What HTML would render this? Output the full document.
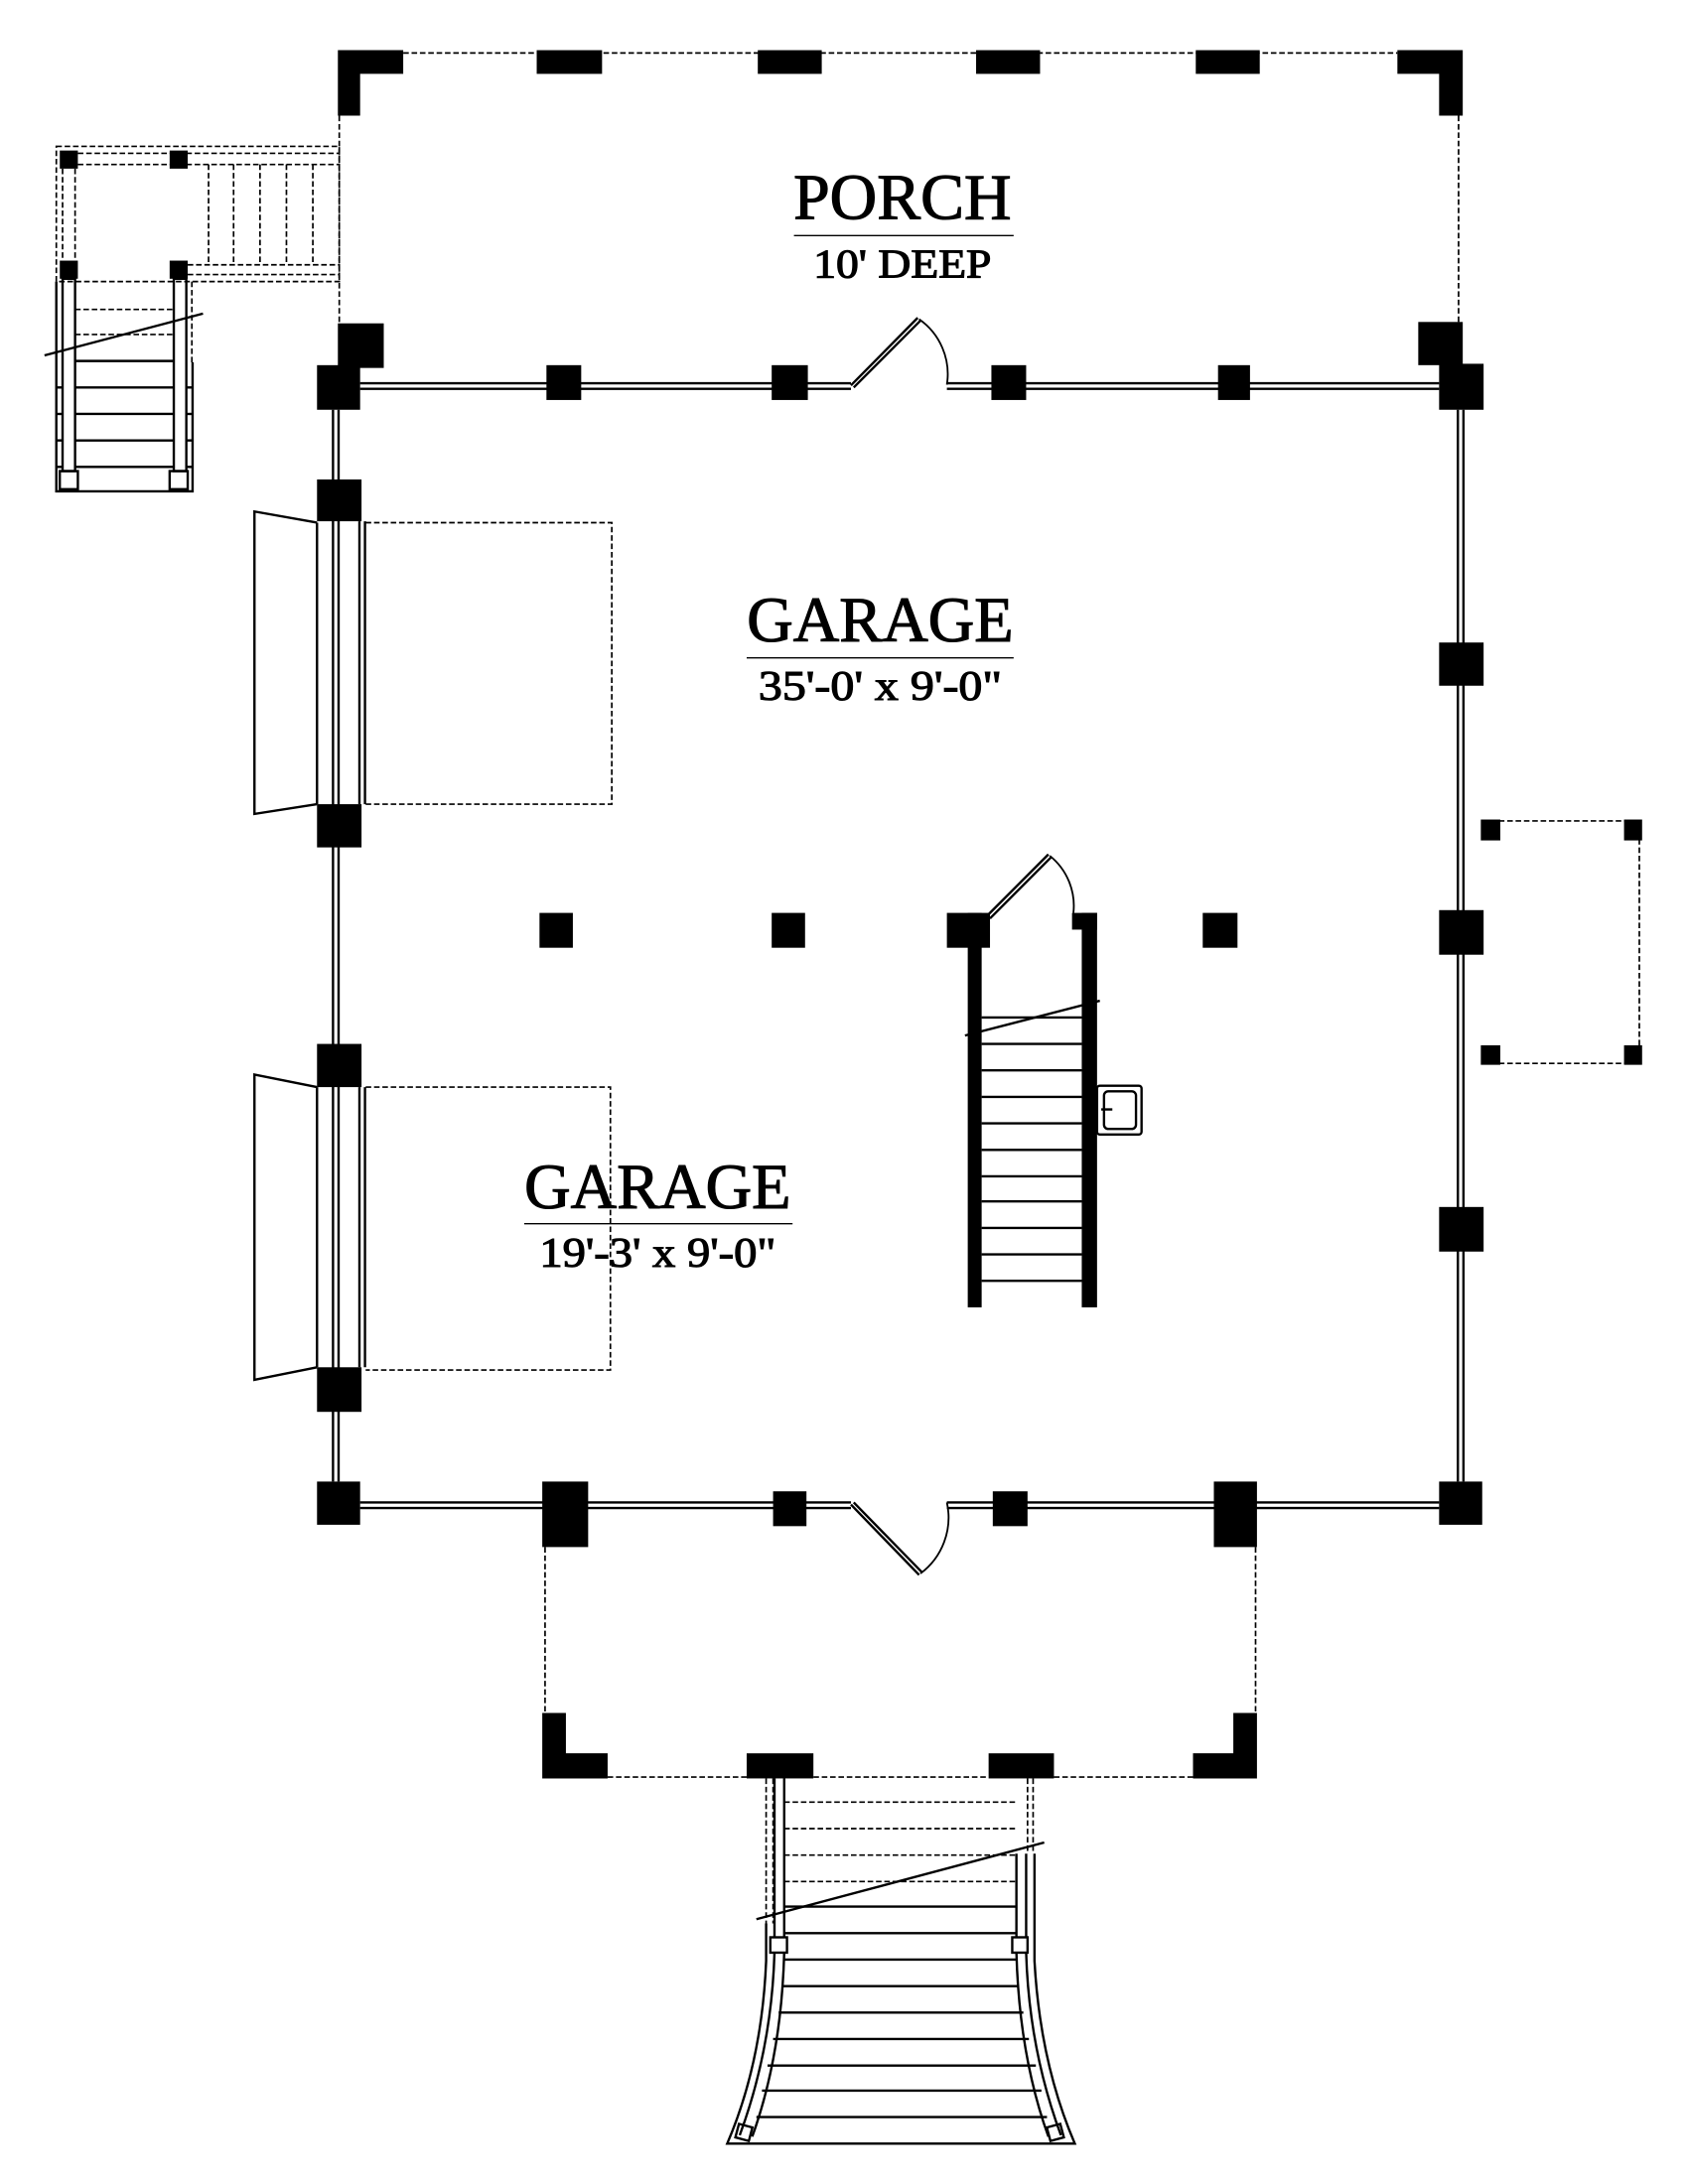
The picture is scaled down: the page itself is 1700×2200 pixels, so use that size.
<!DOCTYPE html>
<html><head><meta charset="utf-8"><style>html,body{margin:0;padding:0;background:#fff}svg{display:block}</style></head>
<body>
<svg width="1700" height="2200" viewBox="0 0 1214 1567" preserveAspectRatio="none" xmlns="http://www.w3.org/2000/svg">
<rect x="0" y="0" width="1214" height="1567" fill="#fff"/>
<g fill="none" stroke="#000" stroke-width="1.2" stroke-dasharray="4 2">
<line x1="290" y1="38" x2="1005" y2="38"/>
<line x1="244" y1="83" x2="244" y2="232"/>
<line x1="1049" y1="83" x2="1049" y2="232"/>
<rect x="40.5" y="105" width="203.5" height="97"/>
<line x1="56" y1="110" x2="244" y2="110"/><line x1="56" y1="118" x2="244" y2="118"/>
<line x1="135" y1="190" x2="244" y2="190"/><line x1="135" y1="197" x2="244" y2="197"/>
<line x1="150" y1="118" x2="150" y2="190"/><line x1="168" y1="118" x2="168" y2="190"/><line x1="187" y1="118" x2="187" y2="190"/><line x1="206" y1="118" x2="206" y2="190"/><line x1="225" y1="118" x2="225" y2="190"/>
<line x1="45" y1="121" x2="45" y2="187"/><line x1="54" y1="121" x2="54" y2="187"/>
<line x1="54" y1="222" x2="125" y2="222"/><line x1="54" y1="240" x2="125" y2="240"/>
<line x1="138" y1="202" x2="138" y2="260"/>
<polyline points="1072,589 1179,589 1179,763 1072,763"/>
<line x1="392" y1="1110" x2="392" y2="1229"/>
<line x1="903" y1="1110" x2="903" y2="1229"/>
<line x1="437" y1="1275" x2="537" y2="1275"/><line x1="585" y1="1275" x2="711" y2="1275"/><line x1="758" y1="1275" x2="858" y2="1275"/>
<polyline points="263,375 440,375 440,577 263,577"/>
<polyline points="263,780 439,780 439,983 263,983"/>
<line x1="564" y1="1293" x2="731" y2="1293"/><line x1="564" y1="1312" x2="731" y2="1312"/><line x1="564" y1="1331" x2="731" y2="1331"/><line x1="564" y1="1350" x2="731" y2="1350"/>
<line x1="551" y1="1276" x2="551" y2="1380"/><line x1="743" y1="1276" x2="743" y2="1330"/>
<line x1="556" y1="1276" x2="556" y2="1380"/><line x1="739" y1="1276" x2="739" y2="1330"/>
</g>
<g fill="#000">
<path d="M243 36H290V53H259V83H243Z"/>
<path d="M1005 36H1052V83H1035V53H1005Z"/>
<rect x="386" y="36" width="47" height="17"/><rect x="545" y="36" width="46" height="17"/><rect x="702" y="36" width="46" height="17"/><rect x="860" y="36" width="46" height="17"/>
<rect x="243" y="232" width="33" height="32"/><rect x="1020" y="231" width="32" height="31"/>
<rect x="228" y="262" width="31" height="32"/><rect x="1035" y="261" width="32" height="33"/>
<rect x="228" y="1063" width="31" height="31"/><rect x="1035" y="1063" width="31" height="31"/>
<rect x="393" y="262" width="25" height="25"/><rect x="555" y="262" width="26" height="25"/><rect x="713" y="262" width="25" height="25"/><rect x="876" y="262" width="23" height="25"/>
<rect x="228" y="344" width="32" height="30"/><rect x="228" y="577" width="32" height="31"/><rect x="228" y="749" width="32" height="31"/><rect x="228" y="981" width="32" height="32"/>
<rect x="1035" y="461" width="32" height="31"/><rect x="1035" y="653" width="32" height="32"/><rect x="1035" y="866" width="32" height="32"/>
<rect x="388" y="655" width="24" height="25"/><rect x="555" y="655" width="24" height="25"/><rect x="865" y="655" width="25" height="25"/>
<rect x="681" y="655" width="31" height="25"/><rect x="696" y="655" width="10" height="283"/>
<rect x="771" y="655" width="18" height="12"/><rect x="778" y="655" width="11" height="283"/>
<rect x="1065" y="588" width="14" height="15"/><rect x="1168" y="588" width="13" height="15"/><rect x="1065" y="750" width="14" height="14"/><rect x="1168" y="750" width="13" height="14"/>
<rect x="43" y="108" width="13" height="13"/><rect x="122" y="108" width="13" height="13"/><rect x="43" y="187" width="13" height="13"/><rect x="122" y="187" width="13" height="13"/>
<rect x="390" y="1063" width="33" height="47"/><rect x="873" y="1063" width="31" height="47"/>
<rect x="556" y="1070" width="24" height="25"/><rect x="714" y="1070" width="25" height="25"/>
<path d="M390 1229H407V1258H437V1276H390Z"/>
<path d="M887 1229H904V1276H858V1258H887Z"/>
<rect x="537" y="1258" width="48" height="18"/><rect x="711" y="1258" width="47" height="18"/>
</g>
<g fill="none" stroke="#000" stroke-width="1.7">
<line x1="259" y1="275" x2="612" y2="275"/><line x1="259" y1="279" x2="612" y2="279"/>
<line x1="681" y1="275" x2="1035" y2="275"/><line x1="681" y1="279" x2="1035" y2="279"/>
<line x1="239.5" y1="294" x2="239.5" y2="1063"/><line x1="243.5" y1="294" x2="243.5" y2="1063"/>
<line x1="1048.5" y1="294" x2="1048.5" y2="1063"/><line x1="1052.5" y1="294" x2="1052.5" y2="1063"/>
<line x1="259" y1="1078" x2="612" y2="1078"/><line x1="259" y1="1082" x2="612" y2="1082"/>
<line x1="681" y1="1078" x2="1035" y2="1078"/><line x1="681" y1="1082" x2="1035" y2="1082"/>
<path d="M612 276.5L660 228"/><path d="M614 278L662 230"/>
<path d="M661 229A48 48 0 0 1 681 276" stroke-width="1.3"/>
<path d="M612 1079.5L661 1130"/><path d="M614 1078L663 1128"/>
<path d="M662 1129A50 50 0 0 0 681 1078" stroke-width="1.3"/>
<path d="M710 657L754 613"/><path d="M712 659L756 615"/>
<path d="M755 614A46 46 0 0 1 772 655" stroke-width="1.3"/>
<line x1="706" y1="730" x2="778" y2="730"/><line x1="706" y1="749" x2="778" y2="749"/><line x1="706" y1="768" x2="778" y2="768"/><line x1="706" y1="787" x2="778" y2="787"/><line x1="706" y1="806" x2="778" y2="806"/><line x1="706" y1="825" x2="778" y2="825"/><line x1="706" y1="844" x2="778" y2="844"/><line x1="706" y1="862" x2="778" y2="862"/><line x1="706" y1="881" x2="778" y2="881"/><line x1="706" y1="900" x2="778" y2="900"/><line x1="706" y1="919" x2="778" y2="919"/>
<line x1="694" y1="743" x2="791" y2="718"/>
<rect x="789" y="779" width="32" height="35" rx="2"/><rect x="794" y="783" width="23" height="27" rx="3"/>
<line x1="792" y1="796" x2="800" y2="796"/>
<path d="M228 375L183 367V584L228 577"/>
<line x1="228" y1="375" x2="228" y2="577"/>
<line x1="258.5" y1="374" x2="258.5" y2="577"/><line x1="262.5" y1="374" x2="262.5" y2="577"/>
<path d="M228 780L183 771V990L228 981"/>
<line x1="228" y1="780" x2="228" y2="981"/>
<line x1="258.5" y1="780" x2="258.5" y2="981"/><line x1="262.5" y1="780" x2="262.5" y2="981"/>
<polyline points="40.5,202 40.5,352.5 138.5,352.5 138.5,260"/>
<rect x="45" y="200" width="9" height="138"/><rect x="125" y="200" width="9" height="138"/>
<rect x="43" y="338" width="13" height="13"/><rect x="122" y="338" width="13" height="13"/>
<line x1="54" y1="259" x2="125" y2="259"/><line x1="54" y1="278" x2="125" y2="278"/><line x1="54" y1="297" x2="125" y2="297"/><line x1="54" y1="316" x2="125" y2="316"/><line x1="54" y1="335" x2="125" y2="335"/>
<line x1="40" y1="278" x2="45" y2="278"/><line x1="40" y1="297" x2="45" y2="297"/><line x1="40" y1="316" x2="45" y2="316"/><line x1="40" y1="335" x2="45" y2="335"/>
<line x1="134" y1="278" x2="138" y2="278"/><line x1="134" y1="297" x2="138" y2="297"/><line x1="134" y1="316" x2="138" y2="316"/><line x1="134" y1="335" x2="138" y2="335"/>
<line x1="32" y1="255" x2="146" y2="225"/>
<line x1="564" y1="1368" x2="731" y2="1368"/><line x1="564" y1="1387" x2="731" y2="1387"/><line x1="564" y1="1406" x2="731" y2="1406"/><line x1="562" y1="1425" x2="733" y2="1425"/><line x1="560" y1="1444" x2="736" y2="1444"/><line x1="556" y1="1463" x2="740" y2="1463"/><line x1="552" y1="1482" x2="745" y2="1482"/><line x1="548" y1="1500" x2="749" y2="1500"/><line x1="544" y1="1519" x2="753" y2="1519"/>
<path d="M557 1276V1390M564 1276V1390"/>
<path d="M731 1330V1390M738 1330V1390"/>
<rect x="554" y="1390" width="12" height="11"/><rect x="728" y="1390" width="11" height="11"/>
<path d="M557 1401Q555 1470 532 1532M564 1401Q562 1475 541 1533"/>
<path d="M738 1401Q740 1470 763 1532M731 1401Q733 1475 754 1533"/>
<path d="M551 1380V1407Q548 1480 523 1538H773Q748 1480 744 1407V1330"/>
<rect x="530" y="1525" width="10" height="10" transform="rotate(15 535 1530)"/>
<rect x="754" y="1525" width="10" height="10" transform="rotate(-15 759 1530)"/>
<line x1="544" y1="1377" x2="751" y2="1322"/>
<line x1="571" y1="169" x2="729" y2="169" stroke-width="1"/>
<line x1="537" y1="472" x2="729" y2="472" stroke-width="1"/>
<line x1="377" y1="878" x2="570" y2="878" stroke-width="1"/>
</g>
<g font-family="'Liberation Serif', serif" text-anchor="middle" fill="#000" stroke="#000" stroke-width="0.8">
<text x="649" y="157" font-size="47">PORCH</text>
<text x="649" y="199" font-size="29" textLength="128" lengthAdjust="spacingAndGlyphs">10' DEEP</text>
<text x="633" y="460" font-size="46">GARAGE</text>
<text x="633" y="502" font-size="30" textLength="175" lengthAdjust="spacingAndGlyphs">35'-0' x 9'-0"</text>
<text x="473" y="867" font-size="46">GARAGE</text>
<text x="473" y="909" font-size="30" textLength="170" lengthAdjust="spacingAndGlyphs">19'-3' x 9'-0"</text>
</g>
</svg>
</body></html>
